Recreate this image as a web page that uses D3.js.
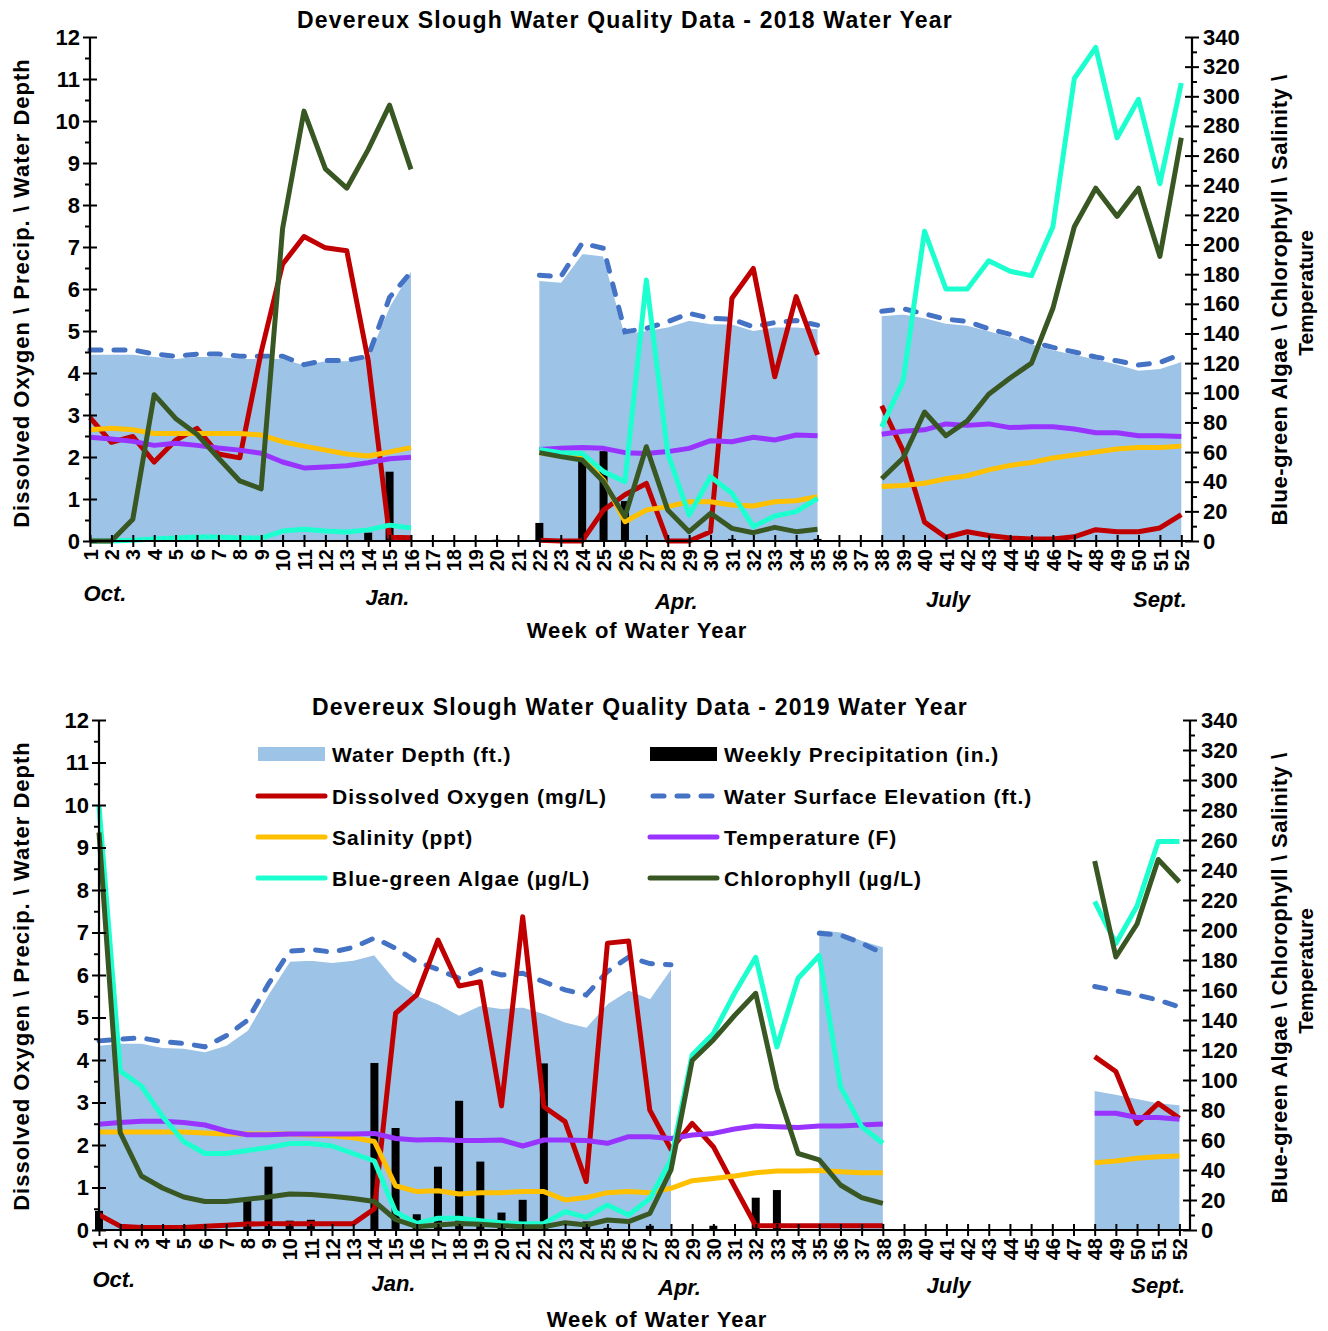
<!DOCTYPE html>
<html>
<head>
<meta charset="utf-8">
<script src="https://cdn.jsdelivr.net/npm/d3@7"></script>
<style>
  body { margin: 0; background: #fff; }
  svg { display: block; }
  text { font-family: "Liberation Sans", Arial, sans-serif; font-weight: bold; fill: #000; }
</style>
</head>
<body>
<svg id="chart" width="1328" height="1331"></svg>
<script>
// ---- shared categories / ticks ----
const _ = null;
const weeks = d3.range(1, 53);
const leftTicks = d3.range(0, 12.01, 0.5);
const rightTicks = d3.range(0, 341, 10);
const monthLabels = ["Oct.", "Jan.", "Apr.", "July", "Sept."];
const monthWeeks = [1.7, 14.9, 28.4, 41.1, 51.0];

// ---- 2018 water year (weeks 1..52) ----
const depth2018 = [4.45,4.45,4.45,4.4,4.35,4.4,4.4,4.35,4.35,4.35,4.2,4.3,4.3,4.4,5.6,6.45,
  _,_,_,_,_,
  6.21,6.17,6.85,6.79,4.94,5.02,5.1,5.26,5.18,5.17,5.02,5.1,5.1,5.06,
  _,_,
  5.37,5.41,5.32,5.19,5.14,5.01,4.87,4.7,4.56,4.45,4.34,4.22,4.07,4.11,4.28];
const wse2018 = [4.55,4.55,4.55,4.45,4.4,4.45,4.45,4.4,4.4,4.4,4.2,4.3,4.3,4.4,5.8,6.4,
  _,_,_,_,_,
  6.33,6.29,7.09,6.97,4.98,5.06,5.22,5.42,5.3,5.28,5.1,5.2,5.25,5.14,
  _,_,
  5.47,5.53,5.41,5.28,5.23,5.05,4.92,4.74,4.61,4.5,4.38,4.29,4.19,4.25,4.45];
const precip2018 = [0,0,0.05,0,0,0,0,0,0,0,0,0,0,0.2,1.65,0,
  0,0,0,0.03,0,
  0.43,0,2.05,2.14,0.95,0,0,0,0,0.05,0,0,0,0.05,
  0,0,
  0,0,0,0,0,0,0,0,0,0,0,0,0,0,0];
const do2018 = [2.94,2.35,2.49,1.88,2.4,2.68,2.07,1.98,4.5,6.59,7.25,6.98,6.91,4.3,0.09,0.08,
  _,_,_,_,_,
  0.02,0,0,0.74,1.1,1.37,0,0,0.22,5.78,6.49,3.91,5.82,4.43,
  _,_,
  3.22,2.15,0.45,0.09,0.22,0.13,0.07,0.05,0.05,0.1,0.27,0.22,0.22,0.31,0.63];
const sal2018 = [75,76,75,72.5,72.5,72.5,72.5,72.5,71.5,67,64,61.3,58.7,57.3,60,63,
  _,_,_,_,_,
  59.6,57.3,55.8,41.2,13,20.9,23.2,26.5,26.5,24.3,23.6,26.5,27.2,29.9,
  _,_,
  36.7,37.5,39,42,44,48,51,53,56,58,60,62,63,63,64];
const temp2018 = [70,68.8,67.2,64.5,66,64.5,62.7,61.3,59.2,53.3,49.3,49.9,50.7,52.8,55.5,56.5,
  _,_,_,_,_,
  61.8,62.5,63,62.5,59.6,59.1,60.3,62.5,67.7,67,70,68.1,71.5,71,
  _,_,
  72,74,75,79,78,79,76.5,77,77,75.5,73,73,71,71,70.5];
const bga2018 = [0,0,0.5,1.3,2,2.7,2.7,2,2,6.7,8,6.7,6,7.5,10.7,8.8,
  _,_,_,_,_,
  61.8,59.6,59.1,46.8,40,176,59.1,17.5,43.4,32.2,9.7,16.9,19.8,28.8,
  _,_,
  77,108,209,170,170,189,182,179,212,312,333,272,298,241,309];
const chl2018 = [0,0,14.7,98.7,82.7,72,56,40.5,35.2,210.7,290,251,238,264,294,250.7,
  _,_,_,_,_,
  59.6,56.9,54.6,40,16.4,63.6,20.9,6.3,18.7,8.5,5.6,9.2,6.3,7.9,
  _,_,
  42,56,87,71,81,99,110,120,157,212,238,219,238,192,272];

// ---- 2019 water year (weeks 1..52) ----
const depth2019 = [4.35,4.4,4.4,4.3,4.28,4.2,4.35,4.7,5.56,6.33,6.35,6.3,6.35,6.48,5.88,
  5.53,5.33,5.06,5.29,5.22,5.25,5.1,4.9,4.78,5.33,5.65,5.45,6.16,
  _,_,_,_,_,_,
  7.07,7.02,6.82,6.67,
  _,_,_,_,_,_,_,_,_,
  3.29,3.2,3.1,3.0,2.95];
const wse2019 = [4.45,4.49,4.52,4.43,4.39,4.31,4.57,4.93,5.79,6.56,6.6,6.54,6.65,6.87,6.63,
  6.31,6.13,5.92,6.13,6.0,6.04,5.84,5.65,5.53,6.08,6.42,6.27,6.24,
  _,_,_,_,_,_,
  6.98,6.94,6.75,6.51,
  _,_,_,_,_,_,_,_,_,
  5.73,5.63,5.53,5.41,5.25];
const precip2019 = [0.45,0,0,0,0,0,0,0.7,1.49,0.22,0.24,0,0,3.93,2.4,
  0.37,1.49,3.04,1.61,0.41,0.71,3.92,0,0.2,0.05,0,0.1,0,
  0,0.1,0,0.76,0.94,0,
  0,0,0,0,
  0,0,0,0,0,0,0,0,0,
  0,0,0,0,0];
const do2019 = [0.36,0.09,0.06,0.06,0.06,0.09,0.11,0.14,0.15,0.15,0.15,0.15,0.15,0.5,5.1,
  5.53,6.82,5.74,5.84,2.92,7.37,2.9,2.55,1.14,6.75,6.8,2.82,1.9,
  2.51,1.96,1.02,0.1,0.1,0.1,
  0.1,0.1,0.1,0.1,
  _,_,_,_,_,_,_,_,_,
  4.08,3.73,2.51,2.98,2.63];
const sal2019 = [65.3,65.3,65.3,65.3,65.3,64.6,64,64,64,64,63.3,62.8,61.5,59,29.5,
  25.6,26.2,24,24.9,24.9,25.6,25.6,20,21.6,24.9,25.6,24.9,27.8,
  32.9,34.4,36,38.2,39.3,39.3,
  39.6,38.9,38.2,38.2,
  _,_,_,_,_,_,_,_,_,
  44.9,46,47.8,48.9,49.3];
const temp2019 = [70.5,71.7,72.5,72.5,71.7,70,66,63.5,63.5,64,64,64,64,64.4,61,
  60,60.4,59.6,59.6,60,56,60,60,59.6,57.8,62.2,62.2,61,
  63.3,64.4,67.3,69.3,68.9,68.4,
  69.3,69.3,70,70.7,
  _,_,_,_,_,_,_,_,_,
  77.8,77.8,75,75,73.8];
const bga2019 = [283,106,96,75.6,59,51,51,53,55,57.6,57.6,56,51,46,12,
  4.4,7.8,7.8,6.2,4.9,4,4.4,12.2,8.4,16.7,10,21,46.7,
  116.7,131,157.8,181.8,122,167.8,
  183,95.6,68.9,57.8,
  _,_,_,_,_,_,_,_,_,
  219,191,216,259,259];
const chl2019 = [265,65,36,28,22,19,19,20.5,22,24,23.6,22.5,21,19,7,
  2.2,3.3,4.4,3.8,2.9,2.2,2.2,4.9,3.3,6.7,5.6,11,40,
  113,126.7,143,157.8,94.4,51,
  46.7,30,21.6,17.8,
  _,_,_,_,_,_,_,_,_,
  246,182,204,247,232];

// ---- legend ----
const legendItems = [
  { name: "Water Depth (ft.)", kind: "area", color: "#9DC3E6" },
  { name: "Weekly Precipitation (in.)", kind: "bar", color: "#000000" },
  { name: "Dissolved Oxygen (mg/L)", kind: "line", color: "#C00000" },
  { name: "Water Surface Elevation (ft.)", kind: "dash", color: "#4472C4" },
  { name: "Salinity (ppt)", kind: "line", color: "#FFC000" },
  { name: "Temperature (F)", kind: "line", color: "#9933FF" },
  { name: "Blue-green Algae (\u00b5g/L)", kind: "line", color: "#1CFFCF" },
  { name: "Chlorophyll (\u00b5g/L)", kind: "line", color: "#385723" }
];

const COLORS = { depth: "#9DC3E6", wse: "#4472C4", precip: "#000", dox: "#C00000",
  sal: "#FFC000", temp: "#9933FF", bga: "#1CFFCF", chl: "#385723" };

const svg = d3.select("#chart");

function drawPanel(p) {
  const g = svg.append("g");
  const x = d3.scaleLinear().domain([1, 52.5]).range([p.left, p.right]);
  const yL = d3.scaleLinear().domain([0, 12]).range([p.bottom, p.top]);
  const yR = d3.scaleLinear().domain([0, 340]).range([p.bottom, p.top]);
  const idx = weeks.map((w, i) => i);

  // water depth area
  const area = d3.area()
    .defined(i => p.depth[i] != null)
    .x(i => x(weeks[i])).y0(yL(0)).y1(i => yL(p.depth[i]));
  g.append("path").datum(idx).attr("d", area).attr("fill", COLORS.depth);
  const areaTop = d3.line().defined(i => p.depth[i] != null)
    .x(i => x(weeks[i])).y(i => yL(p.depth[i]));
  g.append("path").datum(idx).attr("d", areaTop)
    .attr("fill", "none").attr("stroke", "#fff").attr("stroke-width", 1.5);

  const lineL = arr => d3.line().defined(i => arr[i] != null)
    .x(i => x(weeks[i])).y(i => yL(arr[i]));
  const lineR = arr => d3.line().defined(i => arr[i] != null)
    .x(i => x(weeks[i])).y(i => yR(arr[i]));

  // water surface elevation (dashed)
  g.append("path").datum(idx).attr("d", lineL(p.wse))
    .attr("fill", "none").attr("stroke", COLORS.wse).attr("stroke-width", 5)
    .attr("stroke-dasharray", "11,13").attr("stroke-linecap", "round");

  // weekly precipitation bars
  g.selectAll("rect.precip").data(idx.filter(i => p.precip[i] > 0)).join("rect")
    .attr("class", "precip")
    .attr("x", i => x(weeks[i]) - 4).attr("width", 8)
    .attr("y", i => yL(p.precip[i])).attr("height", i => yL(0) - yL(p.precip[i]))
    .attr("fill", COLORS.precip);

  const series = [
    [p.dox, lineL, COLORS.dox],
    [p.sal, lineR, COLORS.sal],
    [p.temp, lineR, COLORS.temp],
    [p.bga, lineR, COLORS.bga],
    [p.chl, lineR, COLORS.chl]
  ];
  series.forEach(([arr, gen, col]) => {
    g.append("path").datum(idx).attr("d", gen(arr))
      .attr("fill", "none").attr("stroke", col).attr("stroke-width", 5)
      .attr("stroke-linejoin", "round").attr("stroke-linecap", "butt");
  });

  const tickFont = sel => sel.attr("font-size", 22)
    .attr("font-family", "'Liberation Sans', Arial, sans-serif").attr("font-weight", "bold");

  // left axis
  const axL = g.append("g").attr("transform", `translate(${p.left},0)`)
    .call(d3.axisLeft(yL).tickValues(leftTicks).tickSize(6)
      .tickFormat(d => Number.isInteger(d) ? d : ""));
  axL.select(".domain").attr("stroke", "#000").attr("stroke-width", 2.2).attr("d", `M0,${p.top}V${p.bottom}`);
  axL.selectAll(".tick line").attr("stroke", "#000").attr("stroke-width", 2)
    .attr("x1", d => Number.isInteger(d) ? 7 : 0).attr("x2", d => Number.isInteger(d) ? -7 : -5);
  axL.selectAll(".tick text").attr("x", -10).call(tickFont);

  // right axis
  const axR = g.append("g").attr("transform", `translate(${p.right},0)`)
    .call(d3.axisRight(yR).tickValues(rightTicks).tickSize(6)
      .tickFormat(d => d % 20 === 0 ? d : ""));
  axR.select(".domain").attr("stroke", "#000").attr("stroke-width", 2.2).attr("d", `M0,${p.top}V${p.bottom}`);
  axR.selectAll(".tick line").attr("stroke", "#000").attr("stroke-width", 2)
    .attr("x1", d => d % 20 === 0 ? -7 : 0).attr("x2", d => d % 20 === 0 ? 7 : 5);
  axR.selectAll(".tick text").attr("x", 11).call(tickFont);

  // bottom axis (week numbers, rotated)
  const axB = g.append("g").attr("transform", `translate(0,${p.bottom})`)
    .call(d3.axisBottom(x).tickValues(weeks).tickSize(6).tickFormat(d3.format("d")));
  axB.select(".domain").attr("stroke", "#000").attr("stroke-width", 2.2).attr("d", `M${p.left},0H${p.right}`);
  axB.selectAll(".tick line").attr("stroke", "#000").attr("stroke-width", 2).attr("y1", -6).attr("y2", 6);
  axB.selectAll(".tick text")
    .attr("x", 0).attr("y", 0).attr("dy", "0.36em")
    .attr("transform", "translate(0,8) rotate(-90)")
    .attr("text-anchor", "end").call(tickFont).attr("font-size", 20);

  // month labels
  g.selectAll("text.month").data(monthLabels).join("text")
    .attr("class", "month")
    .attr("x", (d, i) => x(monthWeeks[i])).attr("y", (d, i) => p.bottom + p.monthDy[i])
    .attr("text-anchor", "middle").attr("font-size", 22).attr("font-style", "italic")
    .text(d => d);

  // titles
  g.append("text").attr("x", p.titleX).attr("y", p.titleY)
    .attr("text-anchor", "middle").attr("font-size", 23).attr("letter-spacing", 1.2).text(p.title);
  g.append("text").attr("x", p.xTitleX).attr("y", p.bottom + 97)
    .attr("text-anchor", "middle").attr("font-size", 22).attr("letter-spacing", 1).text("Week of Water Year");
  g.append("text").attr("transform", `translate(29,${p.midY}) rotate(-90)`)
    .attr("text-anchor", "middle").attr("font-size", 22).attr("letter-spacing", 1)
    .text("Dissolved Oxygen \\ Precip. \\ Water Depth");
  g.append("text").attr("transform", `translate(1287,${p.rightMidY}) rotate(-90)`)
    .attr("text-anchor", "middle").attr("font-size", 22).attr("letter-spacing", 0.5)
    .text("Blue-green Algae \\ Chlorophyll \\ Salinity \\");
  g.append("text").attr("transform", `translate(1313,${p.rightMidY - 7}) rotate(-90)`)
    .attr("text-anchor", "middle").attr("font-size", 21)
    .text("Temperature");

  return { x, yL, yR, g };
}

drawPanel({
  left: 90, right: 1192, top: 37, bottom: 541,
  depth: depth2018, wse: wse2018, precip: precip2018, dox: do2018,
  sal: sal2018, temp: temp2018, bga: bga2018, chl: chl2018,
  title: "Devereux Slough Water Quality Data - 2018 Water Year",
  titleX: 625, titleY: 28, xTitleX: 637, midY: 293, rightMidY: 300,
  monthDy: [60, 64, 68, 66, 66]
});

drawPanel({
  left: 99, right: 1190, top: 720, bottom: 1230,
  depth: depth2019, wse: wse2019, precip: precip2019, dox: do2019,
  sal: sal2019, temp: temp2019, bga: bga2019, chl: chl2019,
  title: "Devereux Slough Water Quality Data - 2019 Water Year",
  titleX: 640, titleY: 715, xTitleX: 657, midY: 976, rightMidY: 978,
  monthDy: [57, 61, 65, 63, 63]
});

// legend (2019 panel)
const lg = svg.append("g");
const colX = [258, 650];
const rowY = [754, 796, 837, 878];
legendItems.forEach((d, i) => {
  const cx = colX[i % 2], cy = rowY[Math.floor(i / 2)];
  const item = lg.append("g");
  if (d.kind === "area" || d.kind === "bar") {
    item.append("rect").attr("x", cx).attr("y", cy - 7).attr("width", 67).attr("height", 14).attr("fill", d.color);
  } else if (d.kind === "dash") {
    item.append("line").attr("x1", cx + 3).attr("x2", cx + 67).attr("y1", cy).attr("y2", cy)
      .attr("stroke", d.color).attr("stroke-width", 5).attr("stroke-dasharray", "11,13").attr("stroke-linecap", "round");
  } else {
    item.append("line").attr("x1", cx).attr("x2", cx + 67).attr("y1", cy).attr("y2", cy)
      .attr("stroke", d.color).attr("stroke-width", 5).attr("stroke-linecap", "round");
  }
  item.append("text").attr("x", cx + 74).attr("y", cy).attr("dy", "0.36em")
    .attr("font-size", 21).attr("letter-spacing", 1).text(d.name);
});
</script>
</body>
</html>
